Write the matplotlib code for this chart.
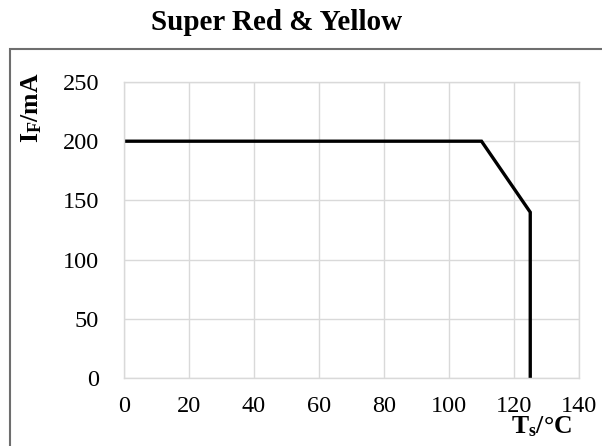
import matplotlib
matplotlib.use('Agg')
import matplotlib.pyplot as plt
from matplotlib.patches import Rectangle

# Derating curve: forward current vs solder point temperature
temp_c = [0, 110, 125, 125]
current_ma = [200, 200, 140, 0]
x_ticks = [0, 20, 40, 60, 80, 100, 120, 140]
y_ticks = [0, 50, 100, 150, 200, 250]

plt.rcParams['font.family'] = ['Liberation Serif', 'DejaVu Serif']
plt.rcParams['mathtext.fontset'] = 'custom'
plt.rcParams['mathtext.rm'] = 'Liberation Serif'
plt.rcParams['mathtext.bf'] = 'Liberation Serif:bold'

W, H = 602, 446
fig = plt.figure(figsize=(W / 100, H / 100), dpi=100)

# plot area in pixels: x 124..579, y 82..378
left, right, top, bottom = 124, 579, 82, 378
ax = fig.add_axes([left / W, 1 - bottom / H, (right - left) / W, (bottom - top) / H])

ax.plot(temp_c, current_ma, color='black', linewidth=2.4, solid_joinstyle='miter')
ax.set_xlim(0, 140)
ax.set_ylim(0, 250)
ax.set_xticks(x_ticks)
ax.set_yticks(y_ticks)
ax.grid(True, color='#d9d9d9', linewidth=1.0)
ax.set_axisbelow(True)
for s in ax.spines.values():
    s.set_color('#d9d9d9')
    s.set_linewidth(1.0)
ax.tick_params(length=0, labelsize=17.5)
ax.tick_params(axis='x', pad=13)
ax.tick_params(axis='y', pad=18)

# chart border (clipped at right and bottom)
fig.patches.append(Rectangle((10 / W, -0.1), 1.2, 1 - 49 / H + 0.1, transform=fig.transFigure,
                             fill=False, edgecolor='#6e6e6e', linewidth=1.5))

fig.text(277 / W, 1 - 23 / H, 'Super Red & Yellow', ha='center', va='center',
         fontsize=21, fontweight='bold')
fig.text(542 / W, 1 - 427 / H, r'$\mathbf{T_s}$/°C', ha='center', va='center',
         fontsize=18.5, fontweight='bold')
fig.text(32 / W, 1 - 108 / H, r'$\mathbf{I_F}$/mA', ha='center', va='center',
         fontsize=18.5, fontweight='bold', rotation=90)

fig.savefig('out.png', dpi=100)
